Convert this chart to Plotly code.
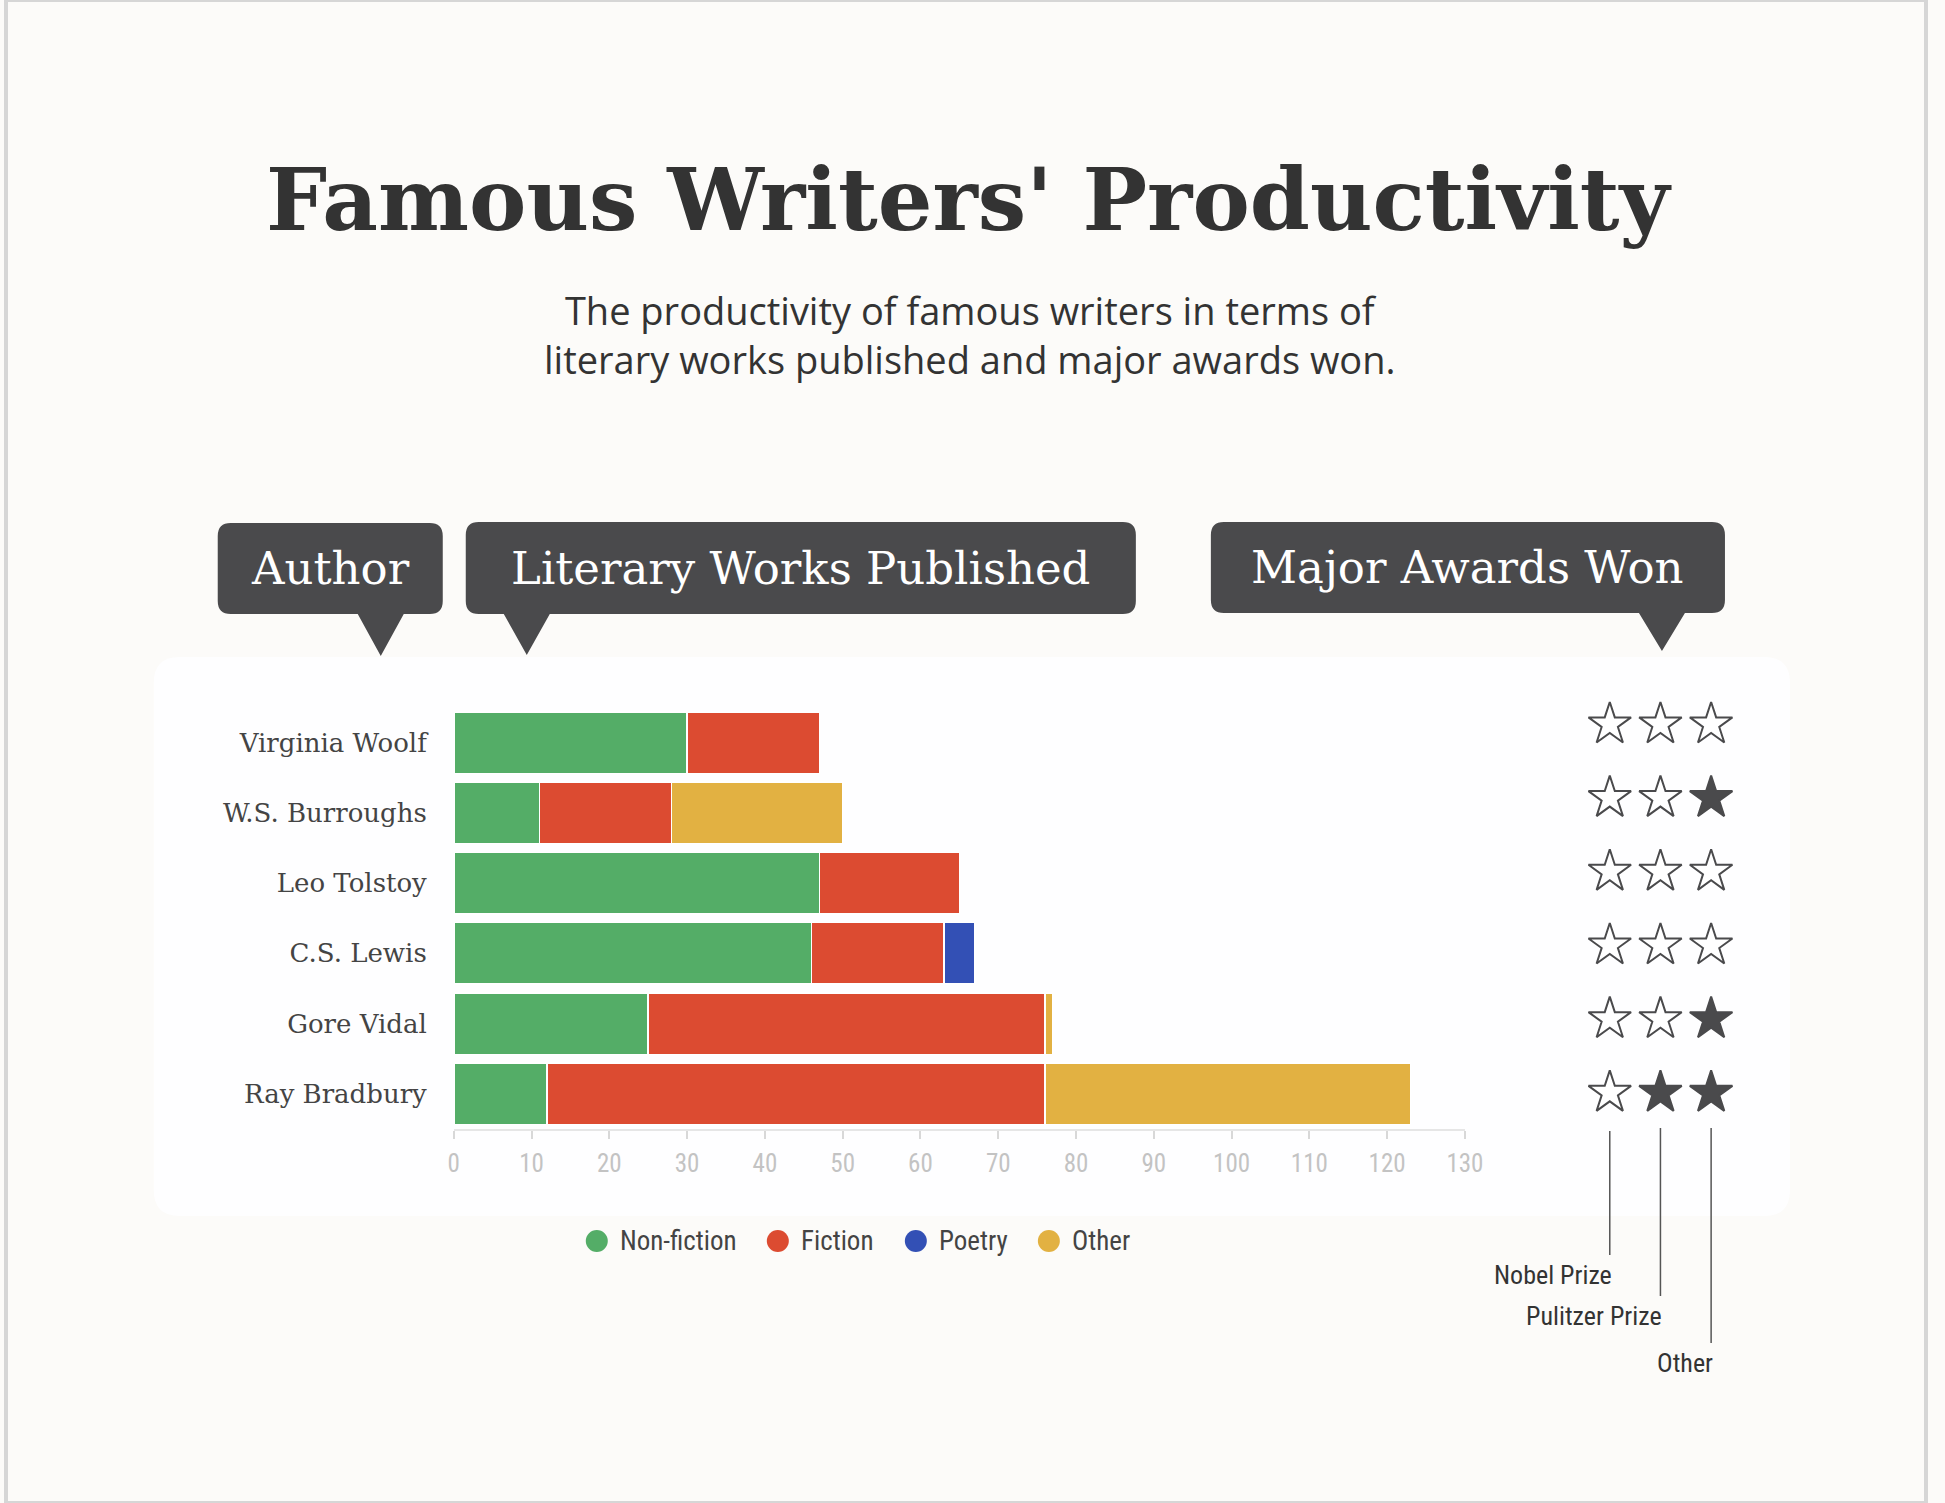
import plotly.graph_objects as go

# ---------------- data ----------------
authors = ["Virginia Woolf", "W.S. Burroughs", "Leo Tolstoy", "C.S. Lewis", "Gore Vidal", "Ray Bradbury"]
non_fiction = [30, 11, 47, 46, 25, 12]
fiction = [17, 17, 18, 17, 51, 64]
poetry = [0, 0, 0, 4, 0, 0]
other_works = [0, 22, 0, 0, 1, 47]
series_names = ["Non-fiction", "Fiction", "Poetry", "Other"]
series_colors = ["#54ad67", "#dc4b31", "#3350b5", "#e2b142"]

award_names = ["Nobel Prize", "Pulitzer Prize", "Other"]
nobel = [0, 0, 0, 0, 0, 0]
pulitzer = [0, 0, 0, 0, 0, 1]
other_award = [0, 1, 0, 0, 1, 1]

x_ticks = list(range(0, 131, 10))

# ---------------- helpers ----------------
W, H = 1945, 1503
# horizontal correction for how the page is captured
OX, SX = 6.3, 0.987
def px(x):
    return min(max((x - OX) / SX / W, 0.0), 1.0)
def py(y):
    return 1 - y / H

def _path(pts):
    s = ""
    for cmd, ps in pts:
        s += cmd + " " + " ".join(f"{px(a):.5f},{py(b):.5f}" for a, b in ps) + " "
    return s + "Z"

def bubble_path(x0, y0, x1, y1, r, tx, ty, hb):
    return _path([
        ("M", [(x0 + r, y0)]),
        ("L", [(x1 - r, y0)]),
        ("Q", [(x1, y0), (x1, y0 + r)]),
        ("L", [(x1, y1 - r)]),
        ("Q", [(x1, y1), (x1 - r, y1)]),
        ("L", [(tx + hb, y1)]),
        ("L", [(tx, ty)]),
        ("L", [(tx - hb, y1)]),
        ("L", [(x0 + r, y1)]),
        ("Q", [(x0, y1), (x0, y1 - r)]),
        ("L", [(x0, y0 + r)]),
        ("Q", [(x0, y0), (x0 + r, y0)]),
    ])

def rrect_path(x0, y0, x1, y1, r):
    return _path([
        ("M", [(x0 + r, y0)]),
        ("L", [(x1 - r, y0)]),
        ("Q", [(x1, y0), (x1, y0 + r)]),
        ("L", [(x1, y1 - r)]),
        ("Q", [(x1, y1), (x1 - r, y1)]),
        ("L", [(x0 + r, y1)]),
        ("Q", [(x0, y1), (x0, y1 - r)]),
        ("L", [(x0, y0 + r)]),
        ("Q", [(x0, y0), (x0 + r, y0)]),
    ])

fig = go.Figure()

# ---------------- bars ----------------
for name, vals, col in zip(series_names, [non_fiction, fiction, poetry, other_works], series_colors):
    fig.add_trace(go.Bar(
        y=authors, x=vals, name=name, orientation="h",
        marker=dict(color=col, line=dict(color="#ffffff", width=1.5)),
        showlegend=False, hoverinfo="skip",
        xaxis="x", yaxis="y",
    ))

# ---------------- stars ----------------
dark = "#4a4a4c"
for i, (aname, won) in enumerate(zip(award_names, [nobel, pulitzer, other_award])):
    fig.add_trace(go.Scatter(
        x=[i] * len(authors), y=list(range(len(authors))),
        mode="markers",
        marker=dict(symbol="star", size=32,
                    color=[dark if w else "#ffffff" for w in won],
                    line=dict(color=dark, width=2)),
        showlegend=False, hoverinfo="skip",
        xaxis="x2", yaxis="y2",
    ))

shapes = []
annotations = []

# page border
shapes.append(dict(type="rect", xref="paper", yref="paper", x0=0, y0=0, x1=1, y1=1,
                   line=dict(color="#d6d6d6", width=4), fillcolor="rgba(0,0,0,0)", layer="above"))
# white panel
shapes.append(dict(type="path", xref="paper", yref="paper", path=rrect_path(154, 657, 1790, 1216, 26),
                   fillcolor="#fefeff", line=dict(width=0), layer="below"))

# header bubbles
bubbles = [
    ("Author", 218, 523, 443, 614, 381, 656),
    ("Literary Works Published", 466, 522, 1136, 614, 527, 655),
    ("Major Awards Won", 1211, 522, 1725, 613, 1662, 651),
]
for text, x0, y0, x1, y1, tx, ty in bubbles:
    shapes.append(dict(type="path", xref="paper", yref="paper",
                       path=bubble_path(x0, y0, x1, y1, 13, tx, ty, 23),
                       fillcolor=dark, line=dict(width=0), layer="below"))
    annotations.append(dict(text=text, xref="paper", yref="paper", x=px((x0 + x1) / 2), y=py((y0 + y1) / 2),
                            xanchor="center", yanchor="middle", showarrow=False,
                            font=dict(family="DejaVu Serif", size=45, color="#ffffff")))

# title & subtitle
annotations.append(dict(text="<b>Famous Writers' Productivity</b>", xref="paper", yref="paper",
                        x=px(970), y=py(200), xanchor="center", yanchor="middle", showarrow=False,
                        font=dict(family="DejaVu Serif", size=86, color="#333333")))
annotations.append(dict(text="The productivity of famous writers in terms of<br>literary works published and major awards won.",
                        xref="paper", yref="paper", x=px(970), y=py(334), xanchor="center", yanchor="middle",
                        showarrow=False, font=dict(family="Open Sans", size=38, color="#333333")))

narrow = "Liberation Sans Narrow, Roboto Condensed, Roboto"

# legend (manual)
leg_cx = [597, 778, 916, 1049]
leg_y = 1241
for name, col, cx in zip(series_names, series_colors, leg_cx):
    shapes.append(dict(type="circle", xref="paper", yref="paper",
                       x0=px(cx - 11), x1=px(cx + 11), y0=py(leg_y + 11), y1=py(leg_y - 11),
                       fillcolor=col, line=dict(width=0)))
    annotations.append(dict(text=name, xref="paper", yref="paper", x=px(cx + 21), y=py(leg_y),
                            xanchor="left", yanchor="middle", showarrow=False,
                            font=dict(family=narrow, size=27, color="#444444")))

# award leader lines and labels
lines = [(1131, 1255, 1275), (1128, 1296, 1316), (1128, 1343, 1363)]
for i, (aname, (ys, ye, ly)) in enumerate(zip(award_names, lines)):
    shapes.append(dict(type="line", xref="x2", yref="paper", x0=i, x1=i, y0=py(ys), y1=py(ye),
                       line=dict(color="#555555", width=1.5)))
    annotations.append(dict(text=aname, xref="x2", yref="paper", x=i, y=py(ly), xanchor="right",
                            yanchor="middle", xshift=4, showarrow=False,
                            font=dict(family=narrow, size=26, color="#333333")))

fig.update_layout(
    width=W, height=H,
    margin=dict(l=0, r=0, t=0, b=0),
    paper_bgcolor="#fcfbf9",
    plot_bgcolor="rgba(0,0,0,0)",
    barmode="stack",
    bargap=0.125,
    showlegend=False,
    shapes=shapes,
    annotations=annotations,
    xaxis=dict(domain=[px(454), px(1465)], range=[0, 130], tickvals=x_ticks,
               showgrid=False, zeroline=False, showline=True, linecolor="#e6e6e6", linewidth=2,
               ticks="outside", ticklen=8, tickcolor="#d8d8d8", tickwidth=1.5, ticklabelstandoff=3,
               tickfont=dict(family=narrow, size=25, color="#c3c3c3"), anchor="y", fixedrange=True),
    yaxis=dict(domain=[py(1129), py(707.5)], categoryorder="array", categoryarray=authors,
               autorange="reversed", showgrid=False, zeroline=False, showline=False, ticks="",
               ticklabelstandoff=26,
               tickfont=dict(family="DejaVu Serif", size=26, color="#444444"), anchor="x", fixedrange=True),
    xaxis2=dict(domain=[px(1584.5), px(1736.5)], range=[-0.5, 2.5], visible=False, anchor="y2", fixedrange=True),
    yaxis2=dict(domain=[py(1129.6), py(687.5)], range=[5.5, -0.5], visible=False, anchor="x2", fixedrange=True),
)

fig.write_html("out.html", config={"displayModeBar": False},
               post_script="document.documentElement.style.overflow='hidden';"
                           "document.body.style.margin='0';document.body.style.overflow='hidden';"
                           "document.body.style.background='#fcfbf9';")
